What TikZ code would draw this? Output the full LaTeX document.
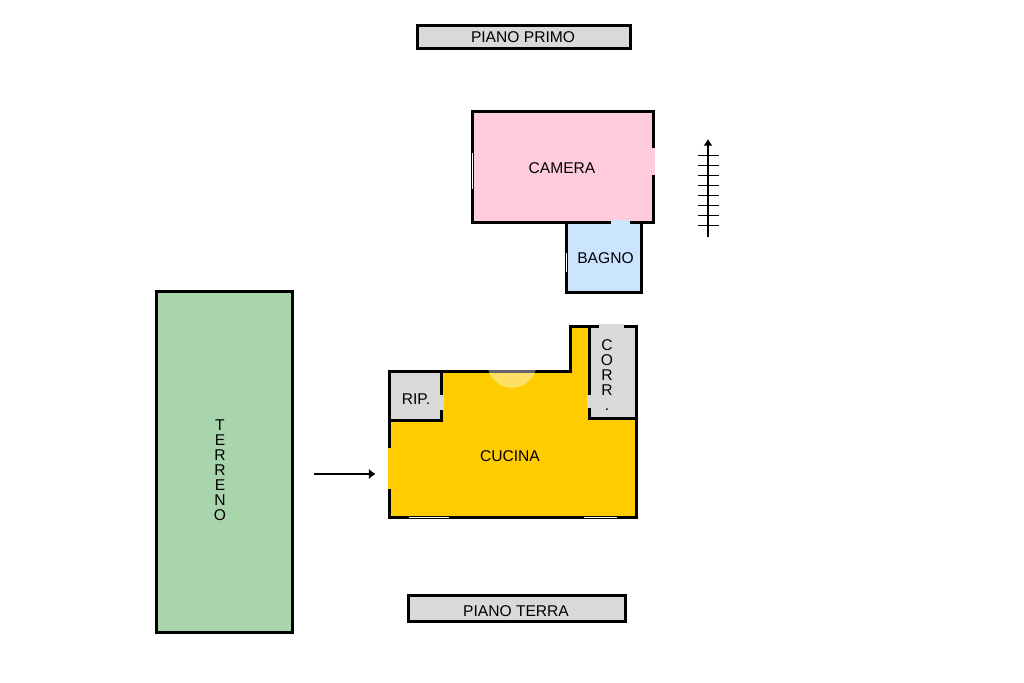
\documentclass[tikz,border=0pt]{standalone}
\usepackage{fontspec}
\setmainfont{Liberation Sans}
\usetikzlibrary{arrows.meta}
\definecolor{camerapink}{RGB}{255,204,220}
\definecolor{bagnoblue}{RGB}{204,229,255}
\definecolor{cucinayellow}{RGB}{255,204,0}
\definecolor{terrenogreen}{RGB}{168,213,172}
\definecolor{roomgrey}{RGB}{217,217,217}
\tikzset{
	wall/.style={draw=black,line width=2.25pt,miter limit=10},
	label/.style={font=\fontsize{11.7}{11.7}\selectfont,inner sep=0pt},
	stacked/.style={font=\fontsize{11.7}{11.3}\selectfont,inner sep=0pt,align=center},
	window/.style={draw=white,line width=0.75pt},
}
\begin{document}
\begin{tikzpicture}[x=0.75pt,y=-0.75pt]
	\useasboundingbox (0,0) rectangle (1024,682);
	% titles
	\filldraw[wall,fill=roomgrey] (417.5,25.5) rectangle (630.5,48.5);
	\node[label] (primo) at (523,37.5) {PIANO PRIMO};
	\filldraw[wall,fill=roomgrey] (408.5,595) rectangle (625,621);
	\node[label] (terra) at (516,611.5) {PIANO TERRA};
	% first floor
	\filldraw[wall,fill=camerapink] (472.5,111.5) rectangle (653,222.5);
	\filldraw[wall,fill=bagnoblue] (566.5,222.5) rectangle (641.5,292.5);
	\fill[camerapink] (650,148) rectangle (655,175);
	\fill[bagnoblue] (611,220) rectangle (630,225);
	\draw[window] (472.5,153) -- (472.5,189);
	\draw[window] (566.5,253) -- (566.5,272);
	\node[label] (camera) at (562,168.5) {CAMERA};
	\node[label] (bagno) at (605.5,258.5) {BAGNO};
	% stairs
	\foreach \y in {155,165,...,225}
		\draw[line width=0.75pt] (698,\y) -- (719,\y);
	\coordinate (stairsA) at (708,237);
	\coordinate (stairsB) at (708,139);
	\draw[line width=1.5pt,-{Latex[length=5pt,width=7pt]}] (stairsA) -- (stairsB);
	% garden
	\filldraw[wall,fill=terrenogreen] (156.5,291.5) rectangle (292.5,632.5);
	\node[stacked] (terreno) at (220,470) {T\\E\\R\\R\\E\\N\\O};
	% ground floor
	\filldraw[wall,fill=cucinayellow] (389.5,371.5) -- (570,371.5) -- (570,326.5) -- (636.5,326.5)
		-- (636.5,517.5) -- (389.5,517.5) -- cycle;
	\filldraw[wall,fill=roomgrey] (389.5,371.5) rectangle (441.5,420.5);
	\filldraw[wall,fill=roomgrey] (589.5,326.5) rectangle (636.5,418.5);
	\fill[roomgrey] (439,395) rectangle (444,410);
	\fill[roomgrey] (587,395) rectangle (592,408);
	\fill[roomgrey] (599,324) rectangle (624,329);
	\fill[cucinayellow] (388,448) rectangle (392,489);
	\draw[window] (409,517.5) -- (449,517.5);
	\draw[window] (584,517.5) -- (617,517.5);
	\begin{scope}
		\clip (480,370) rectangle (545,395);
		\fill[white,opacity=0.4] (512,363) circle[radius=24.7];
	\end{scope}
	\node[label] (rip) at (416,399.5) {RIP.};
	\node[stacked] (corr) at (607,375) {C\\O\\R\\R\\.};
	\node[label] (cucina) at (510,456.5) {CUCINA};
	% entrance
	\coordinate (entryA) at (314,474);
	\coordinate (entryB) at (375.5,474);
	\draw[line width=1.5pt,-{Latex[length=5pt,width=8pt]}] (entryA) -- (entryB);
\end{tikzpicture}
\end{document}
